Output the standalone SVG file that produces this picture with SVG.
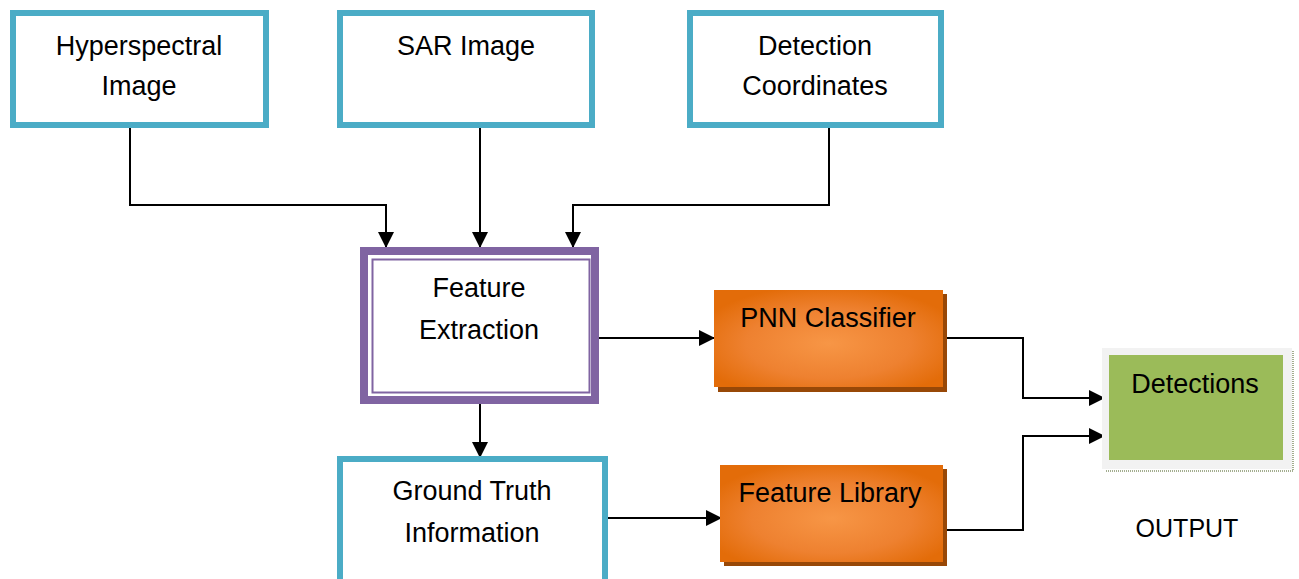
<svg xmlns="http://www.w3.org/2000/svg" width="1299" height="579" viewBox="0 0 1299 579">
<defs>
<style>
.box{fill:#fff;stroke:#4bacc6;stroke-width:6}
.t{font-family:"Liberation Sans",Arial,sans-serif;font-size:27px;fill:#000;text-anchor:middle}
.c{fill:none;stroke:#000;stroke-width:2}
.sh{fill:#984807}
.or{fill:url(#og)}
</style>
<radialGradient id="og" cx="50%" cy="55%" r="60%">
<stop offset="0" stop-color="#f79646"/>
<stop offset="0.6" stop-color="#ee8130"/>
<stop offset="1" stop-color="#e36c09"/>
</radialGradient>
<marker id="ah" markerUnits="userSpaceOnUse" markerWidth="16" markerHeight="16" refX="15" refY="8" orient="auto" viewBox="0 0 16 16">
<path d="M0,0 L16,8 L0,16 z" fill="#000"/>
</marker>
</defs>

<g id="connectors">
<path class="c" d="M130,128 V205 H386 V247" marker-end="url(#ah)"/>
<path class="c" d="M480,128 V247" marker-end="url(#ah)"/>
<path class="c" d="M829,128 V205 H573 V247" marker-end="url(#ah)"/>
<path class="c" d="M599,338 H714" marker-end="url(#ah)"/>
<path class="c" d="M480,404 V457" marker-end="url(#ah)"/>
<path class="c" d="M608,518 H721" marker-end="url(#ah)"/>
<path class="c" d="M943,338 H1023 V398 H1104" marker-end="url(#ah)"/>
<path class="c" d="M943,530 H1023 V436 H1104" marker-end="url(#ah)"/>
</g>

<g id="hyperspectral">
<rect class="box" x="13" y="13" width="253" height="112"/>
<text class="t" x="139" y="55">Hyperspectral</text>
<text class="t" x="139" y="95">Image</text>
</g>

<g id="sar">
<rect class="box" x="340" y="13" width="252" height="112"/>
<text class="t" x="466" y="55">SAR Image</text>
</g>

<g id="detection-coords">
<rect class="box" x="690" y="13" width="251" height="112"/>
<text class="t" x="815" y="55">Detection</text>
<text class="t" x="815" y="95">Coordinates</text>
</g>

<g id="feature-extraction">
<rect x="364" y="251" width="231" height="149" fill="#fff" stroke="#8064a2" stroke-width="8"/>
<rect x="372.5" y="259.5" width="217" height="133" fill="none" stroke="#8064a2" stroke-width="2"/>
<text class="t" x="479" y="297">Feature</text>
<text class="t" x="479" y="339">Extraction</text>
</g>

<g id="pnn">
<rect class="sh" x="718" y="294" width="229" height="98"/>
<rect class="or" x="714" y="290" width="229" height="97"/>
<text class="t" x="828" y="327">PNN Classifier</text>
</g>

<g id="ground-truth">
<rect class="box" x="340" y="459" width="265" height="125"/>
<text class="t" x="472" y="500">Ground Truth</text>
<text class="t" x="472" y="542">Information</text>
</g>

<g id="feature-library">
<rect class="sh" x="724" y="469" width="223" height="97"/>
<rect class="or" x="720" y="465" width="223" height="97"/>
<text class="t" x="830" y="502">Feature Library</text>
</g>

<g id="detections">
<path d="M1293,351 V471 H1105" fill="none" stroke="#a3ad8f" stroke-width="2" stroke-dasharray="1,1"/>
<rect x="1102" y="348" width="190" height="121" fill="#f2f2f2"/>
<rect x="1109" y="355" width="174" height="105" fill="#9bbb59"/>
<text class="t" x="1195" y="393">Detections</text>
</g>

<g id="output-label">
<text class="t" x="1187" y="537" style="font-size:25px">OUTPUT</text>
</g>
</svg>
